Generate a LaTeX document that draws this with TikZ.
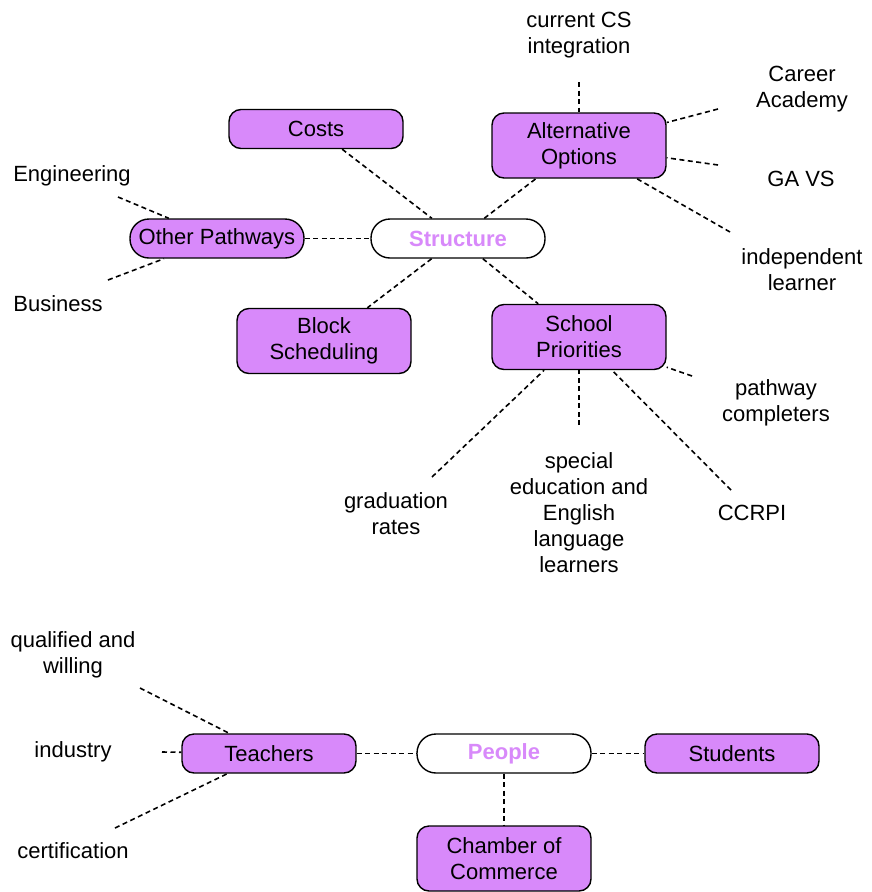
\documentclass[tikz,border=0pt]{standalone}
\usepackage{fontspec}
\setmainfont{Liberation Sans}
\definecolor{lilac}{RGB}{216,137,250}
\begin{document}
\begin{tikzpicture}[x=1pt,y=-1pt,
  every node/.style={font=\fontsize{22}{26}\selectfont, align=center, inner sep=0pt},
  topic/.style={draw=black, line width=1.4pt, fill=lilac, rounded corners=12pt,
    minimum width=174pt, minimum height=39pt},
  tall/.style={topic, minimum height=65pt},
  pill/.style={topic, rounded corners=19pt},
  hub/.style={pill, fill=white, text=lilac, font=\fontsize{22}{26}\selectfont\bfseries},
  leaf/.style={yshift=-2pt},
  link/.style={draw=black, line width=1.6pt, dash pattern=on 5pt off 3.5pt},
  ]
\useasboundingbox (0,0) rectangle (871,892);

% ---- Structure cluster ----
\node[hub]  (structure) at (458,238.5) {Structure};
\node[topic] (costs)    at (316,129)   {Costs};
\node[tall] (alt)       at (579,145.5) {Alternative\\Options};
\node[pill] (other)     at (217,238.5) {Other Pathways};
\node[tall] (block)     at (324,341)   {Block\\Scheduling};
\node[tall] (school)    at (579,337)   {School\\Priorities};

\node[leaf] (cs)        at (579,33)  {current CS\\integration};
\node[leaf] (career)    at (802,87)  {Career\\Academy};
\node[leaf] (gavs)      at (801,177) {GA VS};
\node[leaf] (indep)     at (802,268) {independent\\learner};
\node[leaf] (eng)       at (72,174)  {Engineering};
\node[leaf] (bus)       at (58,302)  {Business};
\node[leaf] (pathway)   at (776,401) {pathway\\completers};
\node[leaf] (grad)      at (396,512) {graduation\\rates};
\node[leaf] (sped)      at (579,511) {special\\education and\\English\\language\\learners};
\node[leaf] (ccrpi)     at (752,511) {CCRPI};

% free ends of the dashed spokes
\coordinate (csE)     at (579,82);
\coordinate (careerE) at (718,109);
\coordinate (gavsE)   at (718,165);
\coordinate (indepE)  at (730,232);
\coordinate (engE)    at (118,197);
\coordinate (busE)    at (108,280);
\coordinate (pathE)   at (692,376);
\coordinate (gradE)   at (432,477);
\coordinate (spedE)   at (579,425);
\coordinate (ccrpiE)  at (731,490);

\draw[link] (costs) -- (structure);
\draw[link] (structure) -- (alt);
\draw[link] (other) -- (structure);
\draw[link] (structure) -- (block);
\draw[link] (structure) -- (school);

\draw[link] (csE) -- (alt);
\draw[link] (careerE) -- (alt);
\draw[link] (gavsE) -- (alt);
\draw[link] (indepE) -- (alt);
\draw[link] (engE) -- (other);
\draw[link] (busE) -- (other);
\draw[link] (pathE) -- (school);
\draw[link] (gradE) -- (school);
\draw[link] (spedE) -- (school);
\draw[link] (ccrpiE) -- (school);

% ---- People cluster ----
\node[hub]   (people)   at (504,753.5) {People};
\node[topic] (teachers) at (269,753.5) {Teachers};
\node[topic] (students) at (732,753.5) {Students};
\node[tall]  (chamber)  at (504,858.5) {Chamber of\\Commerce};

\node[leaf] (qual)  at (73,653) {qualified and\\willing};
\node[leaf] (ind)   at (73,750) {industry};
\node[leaf] (cert)  at (73,849) {certification};

\coordinate (qualE) at (140,688);
\coordinate (indE)  at (162,752);
\coordinate (certE) at (115,828);

\draw[link] (teachers) -- (people);
\draw[link] (people) -- (students);
\draw[link] (people) -- (chamber);
\draw[link] (qualE) -- (teachers);
\draw[link] (indE) -- (teachers);
\draw[link] (certE) -- (teachers);
\end{tikzpicture}
\end{document}
